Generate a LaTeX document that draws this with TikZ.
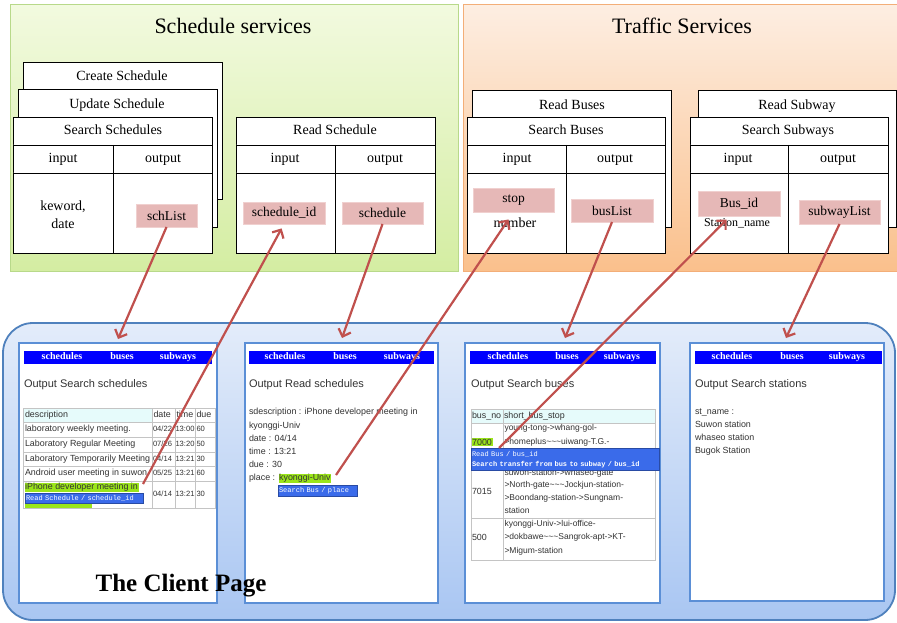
\documentclass[tikz,border=0pt]{standalone}
\usepackage{fontspec}
\setmainfont{Liberation Serif}
\setsansfont{Liberation Sans}
\setmonofont{Liberation Mono}
\usetikzlibrary{arrows.meta}
\definecolor{greenA}{HTML}{F2FADF}
\definecolor{greenB}{HTML}{D4EDA2}
\definecolor{greenE}{HTML}{B8D98A}
\definecolor{orangeA}{HTML}{FDEEE2}
\definecolor{orangeB}{HTML}{FAC08C}
\definecolor{orangeE}{HTML}{F3AE78}
\definecolor{pinkF}{HTML}{E6B8B7}
\definecolor{pinkE}{HTML}{F0D0CF}
\definecolor{clientA}{HTML}{E3ECFA}
\definecolor{clientB}{HTML}{A9C6F2}
\definecolor{clientE}{HTML}{4F81BD}
\definecolor{scrE}{HTML}{5B8FD6}
\definecolor{navblue}{HTML}{0000FF}
\definecolor{popblue}{HTML}{3A6BEA}
\definecolor{hlgreen}{HTML}{9BE51A}
\definecolor{hdrcyan}{HTML}{E6FBFB}
\definecolor{cellE}{HTML}{C4C4C4}
\definecolor{arrowred}{HTML}{C0504D}
\definecolor{txtgray}{HTML}{333333}
\setlength{\fboxsep}{0.6pt}
\begin{document}
\begin{tikzpicture}[x=1pt,y=-1pt,
  every node/.style={inner sep=0pt, outer sep=0pt},
  svcbox/.style={draw=black, line width=0.8pt, fill=white},
  boxlbl/.style={font=\fontsize{14}{16}\selectfont, text height=9.5pt, text depth=3pt},
  pinkbox/.style={fill=pinkF, draw=pinkE, line width=1pt, font=\fontsize{13.5}{15}\selectfont},
  svctitle/.style={font=\fontsize{22}{24}\selectfont},
  scrbox/.style={draw=scrE, line width=1.3pt, fill=white},
  navtxt/.style={text=white, font=\bfseries\fontsize{10}{12}\selectfont, text height=6.8pt, text depth=2.2pt},
  scrtitle/.style={font=\sffamily\fontsize{11}{12}\selectfont, text=txtgray, anchor=west, text height=8pt, text depth=2.3pt},
  tbl/.style={font=\sffamily\fontsize{8.9}{10}\selectfont, text=txtgray, anchor=west, text height=6.5pt, text depth=1.9pt},
  tblsm/.style={font=\sffamily\fontsize{7.6}{10}\selectfont, text=txtgray, anchor=west, text height=5.6pt, text depth=1.6pt},
  scrtxt/.style={font=\sffamily\fontsize{8.9}{13.2}\selectfont, text=txtgray, anchor=north west, align=left},
  popup/.style={fill=popblue, draw=popblue!70!black, line width=0.6pt, text=white, font=\ttfamily\fontsize{7}{9.5}\selectfont, align=left, anchor=north west, inner sep=1pt},
  cell/.style={draw=cellE, line width=0.8pt},
  redarrow/.style={draw=arrowred, line width=2.2pt, -{Straight Barb[length=6.5pt,width=13pt]}},
]
\useasboundingbox (0,0) rectangle (897,623);
\fill[white] (0,0) rectangle (897,623);

% ---------- service panels ----------
\draw[greenE, line width=1pt, top color=greenA, bottom color=greenB] (10,5) rectangle (458,271);
\draw[orangeE, line width=1pt, top color=orangeA, bottom color=orangeB] (463,5) rectangle (900,271);
\node[svctitle] (schsvc) at (233,26) {Schedule services};
\node[svctitle] (trsvc) at (682,26) {Traffic Services};

% Schedule stacked boxes
\draw[svcbox] (23,62) rectangle (222,199);
\node[boxlbl] (create) at (122,77) {Create Schedule};
\draw[svcbox] (18,89) rectangle (217,227);
\node[boxlbl] (update) at (117,105) {Update Schedule};
\draw[svcbox] (13,117) rectangle (212,253);
\draw[svcbox] (13,145) -- (212,145) (13,173) -- (212,173) (113,145) -- (113,253);
\node[boxlbl] (searchsch) at (113,131) {Search Schedules};
\node[boxlbl] (in1) at (63,159) {input};
\node[boxlbl] (out1) at (163,159) {output};
\node[font=\fontsize{14}{18}\selectfont, align=center] (keword) at (63,215) {keword,\\date};

\draw[svcbox] (236,117) rectangle (435,253);
\draw[svcbox] (236,145) -- (435,145) (236,173) -- (435,173) (335,145) -- (335,253);
\node[boxlbl] (readsch) at (335,131) {Read Schedule};
\node[boxlbl] (in2) at (285,159) {input};
\node[boxlbl] (out2) at (385,159) {output};

% Traffic boxes
\draw[svcbox] (472,90) rectangle (671,227);
\node[boxlbl] (readbus) at (572,106) {Read Buses};
\draw[svcbox] (467,117) rectangle (665,253);
\draw[svcbox] (467,145) -- (665,145) (467,173) -- (665,173) (566,145) -- (566,253);
\node[boxlbl] (searchbus) at (566,131) {Search Buses};
\node[boxlbl] (in3) at (517,159) {input};
\node[boxlbl] (out3) at (615,159) {output};
\node[boxlbl] (number) at (515,224) {number};

\draw[svcbox] (698,90) rectangle (896,227);
\node[boxlbl] (readsub) at (797,106) {Read Subway};
\draw[svcbox] (690,117) rectangle (888,253);
\draw[svcbox] (690,145) -- (888,145) (690,173) -- (888,173) (788,145) -- (788,253);
\node[boxlbl] (searchsub) at (788,131) {Search Subways};
\node[boxlbl] (in4) at (738,159) {input};
\node[boxlbl] (out4) at (838,159) {output};
\node[font=\fontsize{12}{14}\selectfont] (stname) at (737,223) {Station\_name};

% pink parameter boxes
\node[pinkbox, minimum width=61pt, minimum height=23pt] (schList) at (166.5,215.5) {schList};
\node[pinkbox, minimum width=82pt, minimum height=22pt] (schid) at (284,213) {schedule\_id};
\node[pinkbox, minimum width=81pt, minimum height=22pt] (sched) at (382.5,213) {schedule};
\node[pinkbox, minimum width=81pt, minimum height=24pt] (stop) at (513.5,200) {stop};
\node[pinkbox, minimum width=82pt, minimum height=23pt] (busList) at (612,210.5) {busList};
\node[pinkbox, minimum width=82pt, minimum height=25pt] (busid) at (739,203.5) {Bus\_id};
\node[pinkbox, minimum width=81pt, minimum height=24pt] (subwayList) at (839.5,212) {subwayList};

% ---------- client page ----------
\draw[clientE, line width=1.8pt, top color=clientA, bottom color=clientB, rounded corners=30pt] (3,323) rectangle (895,620);

% screen 1
\draw[scrbox] (19,343) rectangle (217,603);
\fill[navblue] (24,351) rectangle (212,364);
\node[navtxt] (n1a) at (62,357.5) {schedules};
\node[navtxt] (n1b) at (122,357.5) {buses};
\node[navtxt] (n1c) at (178,357.5) {subways};
\node[scrtitle] (t1) at (24,385) {Output Search schedules};
\fill[hdrcyan] (23,408) rectangle (152,422);
\draw[cell] (23,408) rectangle (215,508);
\draw[cell] (23,422) -- (215,422) (23,437) -- (215,437) (23,452) -- (215,452) (23,466) -- (215,466) (23,481) -- (215,481);
\draw[cell] (152,408) -- (152,508) (175,408) -- (175,508) (195,408) -- (195,508);
\node[tbl] (h1) at (25,415) {description};
\node[tbl] (h2) at (153.5,415) {date};
\node[tbl] (h3) at (176.5,415) {time};
\node[tbl] (h4) at (196.5,415) {due};
\node[tbl] (r1a) at (25,429.5) {laboratory weekly meeting.};
\node[tblsm] (r1b) at (153,429.5) {04/22};
\node[tblsm] (r1c) at (175.5,429.5) {13:00};
\node[tblsm] (r1d) at (196.5,429.5) {60};
\node[tbl] (r2a) at (25,444.5) {Laboratory Regular Meeting};
\node[tblsm] (r2b) at (153,444.5) {07/26};
\node[tblsm] (r2c) at (175.5,444.5) {13:20};
\node[tblsm] (r2d) at (196.5,444.5) {50};
\node[tbl] (r3a) at (25,459) {Laboratory Temporarily Meeting};
\node[tblsm] (r3b) at (153,459) {04/14};
\node[tblsm] (r3c) at (175.5,459) {13:21};
\node[tblsm] (r3d) at (196.5,459) {30};
\node[tbl] (r4a) at (25,473.5) {Android user meeting in suwon};
\node[tblsm] (r4b) at (153,473.5) {05/25};
\node[tblsm] (r4c) at (175.5,473.5) {13:21};
\node[tblsm] (r4d) at (196.5,473.5) {60};
\node[tbl] (r5a) at (24.5,487.5) {\colorbox{hlgreen}{iPhone developer meeting in}};
\fill[hlgreen] (25,502) rectangle (92,508);
\node[popup, text width=116pt, minimum height=10pt] (pop1) at (25,493) {Read Schedule / schedule\_id};
\node[tblsm] (r5b) at (153,494.5) {04/14};
\node[tblsm] (r5c) at (175.5,494.5) {13:21};
\node[tblsm] (r5d) at (196.5,494.5) {30};

% screen 2
\draw[scrbox] (245,343) rectangle (438,603);
\fill[navblue] (249,351) rectangle (434,364);
\node[navtxt] (n2a) at (285,357.5) {schedules};
\node[navtxt] (n2b) at (345,357.5) {buses};
\node[navtxt] (n2c) at (402,357.5) {subways};
\node[scrtitle] (t2) at (249,385) {Output Read schedules};
\node[scrtxt] (s2txt) at (249,408.5) {sdescription : iPhone developer meeting in\\kyonggi-Univ\\date : 04/14\\time : 13:21\\due : 30\\place : \colorbox{hlgreen}{kyonggi-Univ}};
\node[popup, text width=77pt, minimum height=11pt] (pop2) at (278,485) {Search Bus / place};

% screen 3
\draw[scrbox] (465,343) rectangle (660,603);
\fill[navblue] (470,351) rectangle (656,364);
\node[navtxt] (n3a) at (508,357.5) {schedules};
\node[navtxt] (n3b) at (567,357.5) {buses};
\node[navtxt] (n3c) at (622,357.5) {subways};
\node[scrtitle] (t3) at (471,385) {Output Search buses};
\fill[hdrcyan] (471,409) rectangle (655,423);
\draw[cell] (471,409) rectangle (655,560);
\draw[cell] (471,423) -- (655,423) (471,470) -- (655,470) (471,518) -- (655,518) (503,409) -- (503,560);
\node[tbl] (b1) at (472,416) {bus\_no};
\node[tbl] (b2) at (504,416) {short\_bus\_stop};
\node[tbl] (b7000) at (471.5,443) {\colorbox{hlgreen}{7000}};
\node[scrtxt, font=\sffamily\fontsize{8.5}{13.6}\selectfont] (b7000t) at (504.5,424.5) {young-tong->whang-gol-\\>homeplus\textasciitilde\textasciitilde\textasciitilde uiwang-T.G.-};
\node[tbl] (b7015) at (472,492) {7015};
\node[scrtxt, font=\sffamily\fontsize{8.5}{12.8}\selectfont] (b7015t) at (504.5,469) {suwon-station->whaseo-gate\\>North-gate\textasciitilde\textasciitilde\textasciitilde Jockjun-station-\\>Boondang-station->Sungnam-\\station};
\node[tbl] (b500) at (472,538) {500};
\node[scrtxt, font=\sffamily\fontsize{8.5}{13.5}\selectfont] (b500t) at (504.5,520) {kyonggi-Univ->lui-office-\\>dokbawe\textasciitilde\textasciitilde\textasciitilde Sangrok-apt->KT-\\>Migum-station};
\node[popup, text width=186pt, minimum height=22pt] (pop3) at (471,448.5) {Read Bus / bus\_id\\\textbf{Search transfer from bus to subway / bus\_id}};

% screen 4
\draw[scrbox] (690,343) rectangle (884,601);
\fill[navblue] (695,351) rectangle (882,364);
\node[navtxt] (n4a) at (732,357.5) {schedules};
\node[navtxt] (n4b) at (792,357.5) {buses};
\node[navtxt] (n4c) at (847,357.5) {subways};
\node[scrtitle] (t4) at (695,385) {Output Search stations};
\node[scrtxt] (s4txt) at (695,408.5) {st\_name :\\Suwon station\\whaseo station\\Bugok Station};

\node[font=\bfseries\fontsize{25}{28}\selectfont] (client) at (181,586) {The Client Page};

% ---------- connectors ----------
\coordinate (a1) at (118,339);
\coordinate (p1) at (143,484);
\coordinate (a3) at (342,338);
\coordinate (p2) at (336,475);
\coordinate (a5) at (565,338);
\coordinate (p3) at (499,448);
\coordinate (a7) at (786,338);
\draw[redarrow] (schList.south) -- (a1);
\draw[redarrow, shorten >=5pt] (p1) -- (schid.south);
\draw[redarrow] (sched.south) -- (a3);
\draw[redarrow, shorten >=9pt] (p2) -- (stop.south);
\draw[redarrow] (busList.south) -- (a5);
\draw[redarrow, shorten >=5pt] (p3) -- (busid.235);
\draw[redarrow] (subwayList.south) -- (a7);
\end{tikzpicture}
\end{document}
